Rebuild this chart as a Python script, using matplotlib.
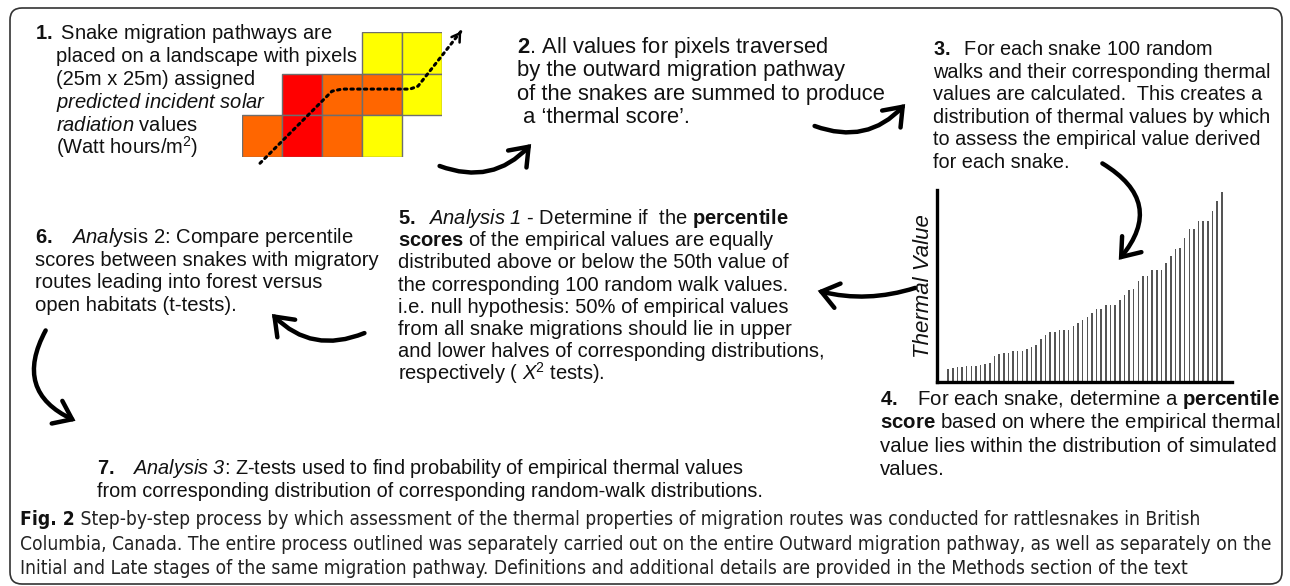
import matplotlib
matplotlib.use('Agg')
import matplotlib.pyplot as plt
from matplotlib.patches import Rectangle, FancyBboxPatch, FancyArrowPatch
from matplotlib import font_manager

# ---------------- data ----------------

# sorted thermal values of the simulated random walks (small chart)
thermal_values = [13, 14, 15, 15, 16, 16, 16, 17, 18, 19,
                  26, 28, 29, 29, 31, 31, 31, 33, 35, 37,
                  43, 47, 50, 50, 52, 52, 52, 56, 59, 62,
                  65, 69, 73, 73, 77, 77, 77, 82, 87, 92,
                  93, 101, 106, 106, 112, 112, 112, 119, 126, 133,
                  134, 144, 153, 153, 161, 161, 161, 171, 181, 190]

# landscape pixels: 0 = empty, 1 = low, 2 = mid, 3 = high solar radiation
cell_codes = [[0, 0, 0, 1, 1],
              [0, 3, 2, 2, 1],
              [2, 3, 2, 1, 0]]
cell_colors = {1: '#ffff00', 2: '#ff6600', 3: '#ff0000'}

# migration pathway in grid cell units
path_x = [0.45, 2.25, 2.5, 4.2, 4.4, 5.52]
path_y = [-0.15, 1.58, 1.63, 1.63, 1.7, 3.07]

# \mathsf is mapped to the italic face below (keeps digits italic too)
step1 = [r"$\mathbf{1.}$ Snake migration pathways are",
         "placed on a landscape with pixels",
         "(25m x 25m) assigned",
         r"$\mathsf{predicted\ incident\ solar}$",
         r"$\mathsf{radiation}$ values",
         r"(Watt hours/m$^2$)"]
step2 = [r"$\mathbf{2}$. All values for pixels traversed",
         "by the outward migration pathway",
         "of the snakes are summed to produce",
         " a \u2018thermal score\u2019."]
step3 = [r"$\mathbf{3.}$  For each snake 100 random",
         "walks and their corresponding thermal",
         "values are calculated.  This creates a",
         "distribution of thermal values by which",
         "to assess the empirical value derived",
         "for each snake."]
step4 = [r"$\mathbf{4.}$   For each snake, determine a $\mathbf{percentile}$",
         r"$\mathbf{score}$ based on where the empirical thermal",
         "value lies within the distribution of simulated",
         "values."]
step5 = [r"$\mathbf{5.}$  $\mathsf{Analysis\ 1}$ - Determine if  the $\mathbf{percentile}$",
         r"$\mathbf{scores}$ of the empirical values are equally",
         "distributed above or below the 50th value of",
         "the corresponding 100 random walk values.",
         "i.e. null hypothesis: 50% of empirical values",
         "from all snake migrations should lie in upper",
         "and lower halves of corresponding distributions,",
         r"respectively ( $\mathsf{X}^2$ tests)."]
step6 = [r"$\mathbf{6.}$   $\mathsf{Anal}$ysis 2: Compare percentile",
         "scores between snakes with migratory",
         "routes leading into forest versus",
         "open habitats (t-tests)."]
step7 = [r"$\mathbf{7.}$   $\mathsf{Analysis\ 3}$: Z-tests used to find probability of empirical thermal values",
         "from corresponding distribution of corresponding random-walk distributions."]

caption_head = "Fig. 2"
caption = [" Step-by-step process by which assessment of the thermal properties of migration routes was conducted for rattlesnakes in British",
           "Columbia, Canada. The entire process outlined was separately carried out on the entire Outward migration pathway, as well as separately on the",
           "Initial and Late stages of the same migration pathway. Definitions and additional details are provided in the Methods section of the text"]

# ---------------- fonts ----------------

plt.rcParams['font.family'] = ['Liberation Sans', 'DejaVu Sans']
plt.rcParams['mathtext.fontset'] = 'custom'
plt.rcParams['mathtext.rm'] = 'Liberation Sans'
plt.rcParams['mathtext.it'] = 'Liberation Sans:italic'
plt.rcParams['mathtext.sf'] = 'Liberation Sans:italic'
plt.rcParams['mathtext.bf'] = 'Liberation Sans:bold'

names = {f.name for f in font_manager.fontManager.ttflist}
if 'Liberation Sans Narrow' in names:
    cap_font = 'Liberation Sans Narrow'
else:
    cap_font = 'DejaVu Sans'

W, H = 1290, 586
INK = '#111111'

fig = plt.figure(figsize=(W / 100, H / 100), dpi=100)
ax = fig.add_axes([0, 0, 1, 1])
ax.set_xlim(0, W)
ax.set_ylim(H, 0)
ax.axis('off')


def block(x, y, lines, size, dy, first_x=None):
    for i, s in enumerate(lines):
        xx = first_x if (i == 0 and first_x is not None) else x
        ax.text(xx, y + i * dy, s, fontsize=size, color=INK, va='baseline', ha='left')


def inset(x0, y0, x1, y1):
    # pixel box -> figure fraction
    return fig.add_axes([x0 / W, (H - y1) / H, (x1 - x0) / W, (y1 - y0) / H])


# outer frame
ax.add_patch(FancyBboxPatch((10, 8), 1272, 576,
                            boxstyle="round,pad=0,rounding_size=12",
                            fc='none', ec='#333333', lw=1.2))

# text blocks
block(56, 39, step1, 14.5, 23, first_x=35)
block(517, 53, step2, 15.8, 23.3)
block(933, 55, step3, 14.35, 22.6)
block(880, 405, step4, 14.7, 23.3)
block(398, 224, step5, 14.5, 22.2)
block(35, 243, step6, 14.6, 22.7)
block(97, 474, step7, 14.3, 23)

# caption
renderer = fig.canvas.get_renderer()
head = ax.text(20, 525, caption_head, fontsize=13.8, family=cap_font,
               fontweight='bold', va='baseline', color=INK, fontstretch='condensed')
bb = head.get_window_extent(renderer=renderer)
for i, s in enumerate(caption):
    xx = 20 + bb.width if i == 0 else 20
    ax.text(xx, 525 + i * 24.5, s, fontsize=13.8, family=cap_font, va='baseline',
            color='#222222', fontstretch='condensed')

# curved arrows
arrows = [((437, 165), (533, 142), 0.35),
          ((812, 125), (907, 102), 0.35),
          ((1100, 162), (1117, 262), -0.6),
          ((918, 287), (815, 290), -0.15),
          ((367, 332), (270, 312), -0.35),
          ((47, 328), (78, 422), 0.55)]
for a, b, rad in arrows:
    ax.add_patch(FancyArrowPatch(a, b, connectionstyle=f"arc3,rad={rad}",
                                 arrowstyle="->,head_length=0.6,head_width=0.45",
                                 mutation_scale=20, lw=3.2, color='black',
                                 capstyle='round', joinstyle='miter'))

# landscape grid
gax = inset(242, 32, 442, 157)
gax.set_xlim(0, 5)
gax.set_ylim(0, 3)
gax.axis('off')
for r, row in enumerate(cell_codes):
    for c, code in enumerate(row):
        if code:
            gax.add_patch(Rectangle((c, 2 - r), 1, 1, fc=cell_colors[code],
                                    ec='#6e6e6e', lw=1.0))
gax.plot(path_x[:-1] + [path_x[-1] - 0.05], path_y[:-1] + [path_y[-1] - 0.06],
         color='black', lw=2.2, ls=(0, (0.8, 1.4)), dash_capstyle='round', clip_on=False)
gax.annotate('', xy=(path_x[-1], path_y[-1]), xytext=(path_x[-1] - 0.12, path_y[-1] - 0.17),
             arrowprops=dict(arrowstyle='->,head_length=0.4,head_width=0.25',
                             lw=1.8, color='black', mutation_scale=14),
             annotation_clip=False)

# distribution of thermal values
bax = inset(937, 190, 1232, 382)
bax.set_facecolor('none')
idx = list(range(len(thermal_values)))
bax.bar(idx, thermal_values, width=0.33, color='#555555')
bax.set_xlim(-2.4, 61.2)
bax.set_ylim(0, 192)
for side in ['top', 'right']:
    bax.spines[side].set_visible(False)
for side in ['left', 'bottom']:
    bax.spines[side].set_linewidth(2.4)
    bax.spines[side].set_color('black')
bax.set_xticks([])
bax.set_yticks([])
bax.set_ylabel('Thermal Value', fontsize=16, fontstyle='italic', color=INK, labelpad=2)

fig.savefig('out.png', dpi=100, facecolor='white')
